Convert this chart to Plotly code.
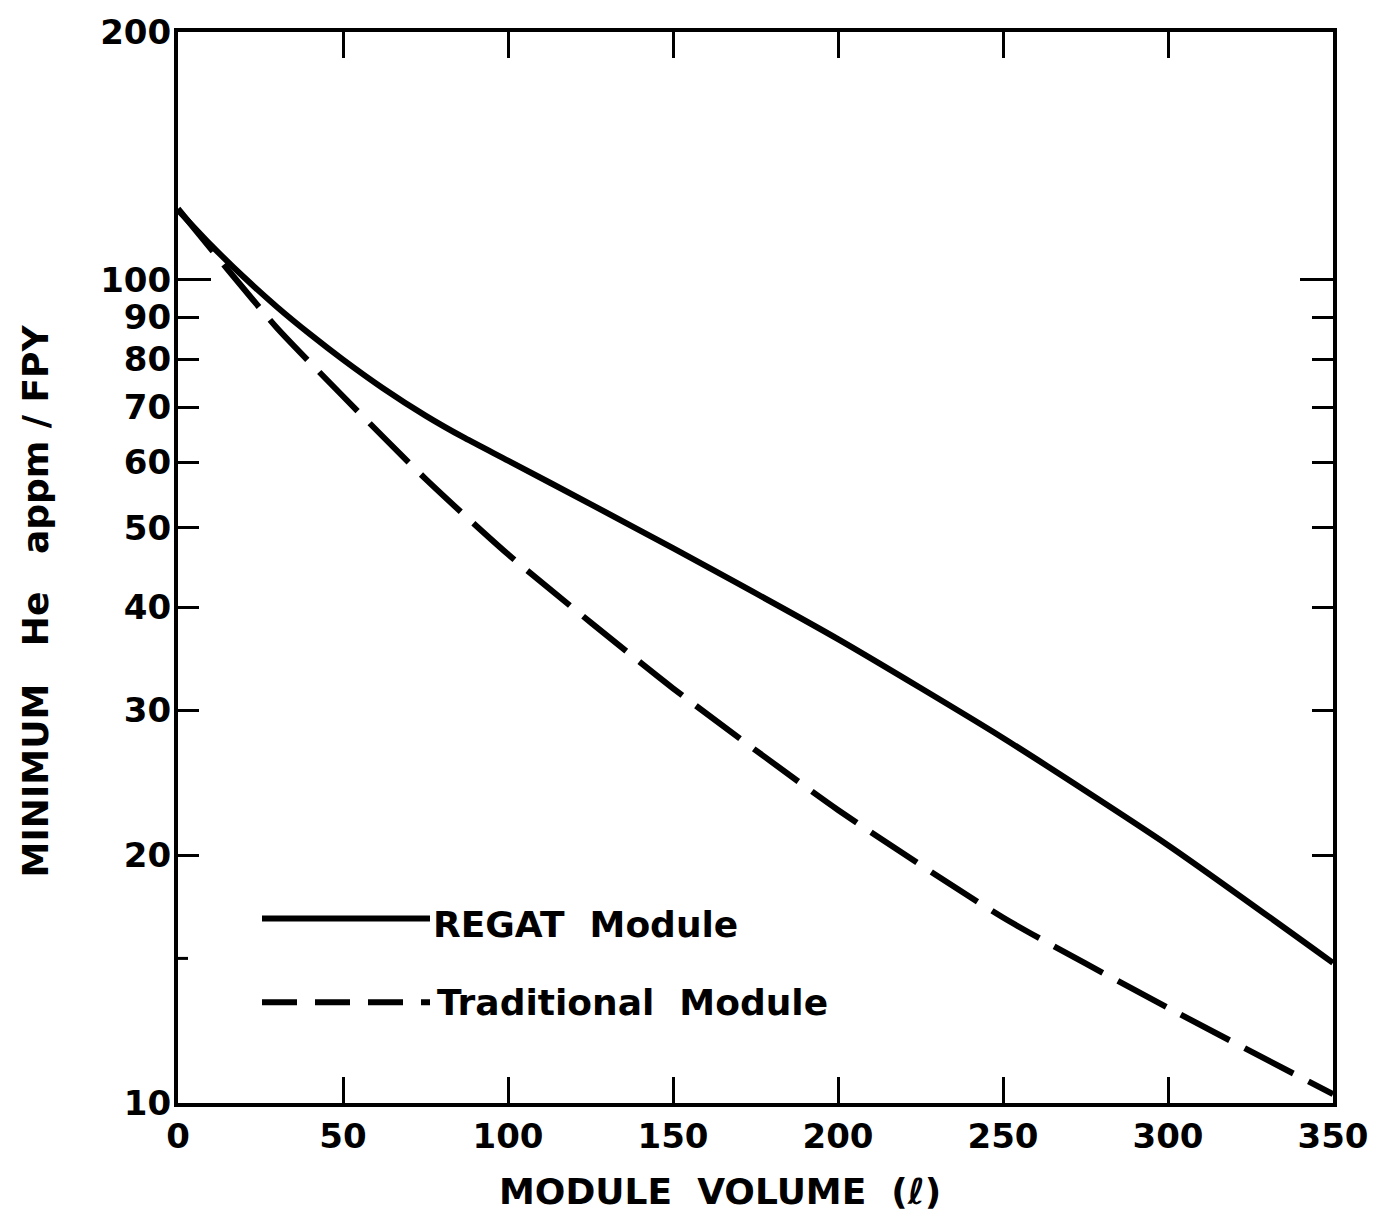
import math
import plotly.graph_objects as go

# Data
volume = [0, 10, 20, 30, 40, 50, 62, 75, 87, 100, 125, 150, 200, 250, 300, 350]
regat = [121.5, 110.2, 100.7, 92.7, 85.9, 80, 73.9, 68.4, 64.2, 60.3, 53.4, 47.2, 36.6, 27.76, 20.57, 14.8]

volume_trad = [0, 15, 30, 50, 75, 100, 150, 200, 250, 300, 350]
traditional = [122, 103, 87.4, 72.2, 57.3, 46.4, 31.9, 22.7, 16.8, 13.05, 10.25]

x_ticks = [0, 50, 100, 150, 200, 250, 300, 350]
y_ticks = [10, 20, 30, 40, 50, 60, 70, 80, 90, 100, 200]
y_tick_text = [str(v) for v in y_ticks]

series_names = ["REGAT  Module", "Traditional  Module"]

FONT = "DejaVu Sans"

W, H = 1394, 1216
PL, PR, PT, PB = 178, 1333, 29, 1103
PW, PH = PR - PL, PB - PT


def px(xp):
    return (xp - PL) / PW


def py(yp):
    return (PB - yp) / PH


fig = go.Figure()
fig.add_trace(go.Scatter(x=volume, y=regat, mode="lines", name=series_names[0],
                         line=dict(color="black", width=6, shape="spline", smoothing=0.6)))
fig.add_trace(go.Scatter(x=volume_trad, y=traditional, mode="lines", name=series_names[1],
                         line=dict(color="black", width=6, shape="spline", smoothing=0.6,
                                   dash="55px,17px")))

axis_common = dict(
    showline=True, linecolor="black", linewidth=4, mirror="ticks",
    ticks="inside", tickcolor="black", tickwidth=3,
    showgrid=False, zeroline=False,
    tickfont=dict(family=FONT, size=34, color="black", weight="bold"),
)

fig.update_xaxes(range=[0, 350], tickvals=x_ticks, ticktext=[str(v) for v in x_ticks],
                 ticklen=26, **axis_common)
fig.update_yaxes(type="log", range=[1, math.log10(200) + 1e-6], tickvals=y_ticks, ticktext=y_tick_text,
                 ticklen=21, ticklabelstandoff=-4,
                 minor=dict(tickvals=[100], ticks="inside", ticklen=33, tickwidth=3, tickcolor="black"),
                 **axis_common)

# short extra tick near 15 on the left axis only
fig.add_shape(type="line", xref="paper", yref="paper", x0=0, x1=px(188),
              y0=py(958), y1=py(958), line=dict(color="black", width=3))

# Legend drawn like the original (sample line + label)
fig.add_shape(type="line", xref="paper", yref="paper", x0=px(262), x1=px(430),
              y0=py(918), y1=py(918), line=dict(color="black", width=6))
fig.add_shape(type="line", xref="paper", yref="paper", x0=px(262), x1=px(430),
              y0=py(1002), y1=py(1002), line=dict(color="black", width=6, dash="35px,18px"))
fig.add_annotation(text=series_names[0], xref="paper", yref="paper", x=px(431),
                   y=py(924), xanchor="left", yanchor="middle", showarrow=False,
                   font=dict(family=FONT, size=36, color="black", weight="bold"))
fig.add_annotation(text=series_names[1], xref="paper", yref="paper", x=px(435),
                   y=py(1002), xanchor="left", yanchor="middle", showarrow=False,
                   font=dict(family=FONT, size=36, color="black", weight="bold"))

# Axis titles
fig.add_annotation(text="MODULE  VOLUME  (ℓ)", xref="paper", yref="paper", x=px(720),
                   y=py(1192), xanchor="center", yanchor="middle", showarrow=False,
                   font=dict(family=FONT, size=36, color="black", weight="bold"))
fig.add_annotation(text="MINIMUM   He   appm / FPY", xref="paper", yref="paper", x=px(35),
                   y=py(600), xanchor="center", yanchor="middle", showarrow=False,
                   textangle=-90,
                   font=dict(family=FONT, size=36, color="black", weight="bold"))

fig.update_layout(
    width=W, height=H,
    margin=dict(l=PL, r=W - PR, t=PT, b=H - PB),
    paper_bgcolor="white", plot_bgcolor="white",
    showlegend=False,
)

fig.write_html("out.html", config={"displayModeBar": False},
               post_script="document.body.style.margin='0';document.body.style.overflow='hidden';")
